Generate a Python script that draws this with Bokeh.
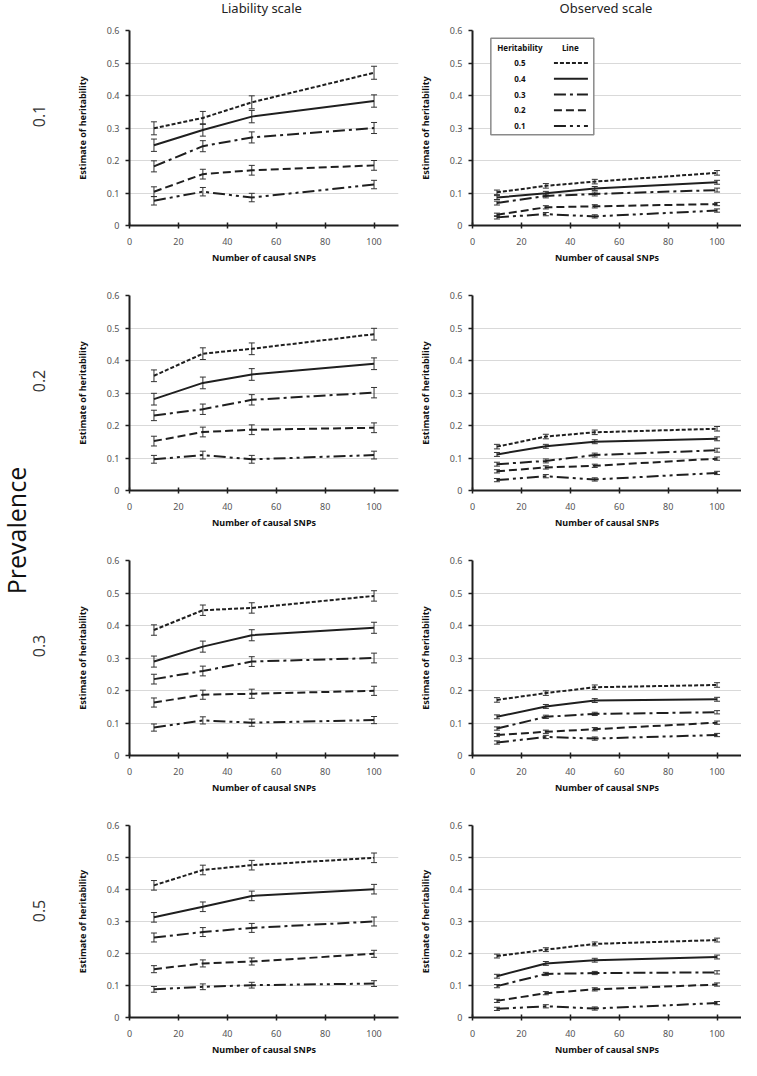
import math
from bokeh.plotting import figure
from bokeh.models import (ColumnDataSource, Whisker, TeeHead, FixedTicker,
                          CustomJSTickFormatter, Range1d)
from bokeh.layouts import row, column
from bokeh.embed import file_html
from bokeh.resources import INLINE
from bokeh.core.properties import value

# ---------------- data ----------------
snps = [10, 30, 50, 100]
heritability = ["0.5", "0.4", "0.3", "0.2", "0.1"]
prevalence = ["0.1", "0.2", "0.3", "0.5"]
scales = ["Liability scale", "Observed scale"]
x_ticks = [0, 20, 40, 60, 80, 100]
y_ticks = [0, 0.1, 0.2, 0.3, 0.4, 0.5, 0.6]

# rows: heritability 0.5, 0.4, 0.3, 0.2, 0.1 ; columns: snps
liab_prev01 = [[0.299, 0.331, 0.379, 0.470],
               [0.247, 0.294, 0.335, 0.383],
               [0.182, 0.244, 0.271, 0.300],
               [0.104, 0.158, 0.170, 0.185],
               [0.076, 0.104, 0.086, 0.126]]
liab_prev02 = [[0.353, 0.421, 0.436, 0.481],
               [0.281, 0.331, 0.357, 0.390],
               [0.231, 0.250, 0.279, 0.301],
               [0.152, 0.180, 0.187, 0.193],
               [0.096, 0.109, 0.096, 0.109]]
liab_prev03 = [[0.386, 0.447, 0.454, 0.491],
               [0.289, 0.335, 0.370, 0.393],
               [0.235, 0.260, 0.289, 0.300],
               [0.163, 0.187, 0.190, 0.199],
               [0.086, 0.108, 0.101, 0.109]]
liab_prev05 = [[0.413, 0.461, 0.476, 0.499],
               [0.313, 0.346, 0.380, 0.401],
               [0.250, 0.267, 0.280, 0.300],
               [0.151, 0.169, 0.175, 0.199],
               [0.088, 0.096, 0.101, 0.106]]

obs_prev01 = [[0.102, 0.122, 0.135, 0.162],
              [0.086, 0.099, 0.114, 0.133],
              [0.069, 0.091, 0.097, 0.109],
              [0.033, 0.056, 0.059, 0.066],
              [0.025, 0.035, 0.028, 0.046]]
obs_prev02 = [[0.135, 0.166, 0.179, 0.190],
              [0.111, 0.136, 0.150, 0.159],
              [0.081, 0.091, 0.109, 0.124],
              [0.059, 0.071, 0.076, 0.098],
              [0.032, 0.044, 0.034, 0.054]]
obs_prev03 = [[0.171, 0.192, 0.210, 0.217],
              [0.119, 0.151, 0.169, 0.173],
              [0.083, 0.119, 0.128, 0.133],
              [0.063, 0.073, 0.081, 0.101],
              [0.040, 0.057, 0.052, 0.063]]
obs_prev05 = [[0.192, 0.212, 0.230, 0.242],
              [0.129, 0.169, 0.179, 0.189],
              [0.098, 0.136, 0.139, 0.141],
              [0.052, 0.076, 0.088, 0.103],
              [0.027, 0.035, 0.028, 0.045]]

# half-width of error bars, one value per heritability series
liab_err_prev01 = [0.020, 0.019, 0.017, 0.015, 0.013]
liab_err_prev02 = [0.018, 0.018, 0.016, 0.015, 0.012]
liab_err_prev03 = [0.016, 0.017, 0.015, 0.014, 0.011]
liab_err_prev05 = [0.015, 0.015, 0.014, 0.011, 0.009]
obs_err_prev01 = [0.007, 0.006, 0.006, 0.005, 0.005]
obs_err_prev02 = [0.007, 0.006, 0.006, 0.005, 0.005]
obs_err_prev03 = [0.007, 0.006, 0.005, 0.005, 0.005]
obs_err_prev05 = [0.006, 0.006, 0.005, 0.005, 0.005]

liab_panels = [liab_prev01, liab_prev02, liab_prev03, liab_prev05]
obs_panels = [obs_prev01, obs_prev02, obs_prev03, obs_prev05]
liab_errs = [liab_err_prev01, liab_err_prev02, liab_err_prev03, liab_err_prev05]
obs_errs = [obs_err_prev01, obs_err_prev02, obs_err_prev03, obs_err_prev05]

# ---------------- styling / layout sizes ----------------
FONT = "Noto Sans"
INK = "#1f1f1f"
dashes = ["4 2", "solid", "12 4 3 4", "8 4", "12 4 3 4 3 4"]

HEADER_H = 24
STRIP_W = 72
FRAME_W_L = 274
FRAME_W_R = 271
FRAME_H = 195
L_BL, L_BR = 52, 17
R_BL, R_BR = 55, 0
TOP_FIRST, TOP = 6, 29
BOT, BOT_LAST = 41, 38
TOTAL_W = STRIP_W + L_BL + FRAME_W_L + L_BR + R_BL + FRAME_W_R + R_BR


def make_panel(values, errs, col, rowi):
    bl, br = (L_BL, L_BR) if col == 0 else (R_BL, R_BR)
    fw = FRAME_W_L if col == 0 else FRAME_W_R
    bt = TOP_FIRST if rowi == 0 else TOP
    bb = BOT_LAST if rowi == 3 else BOT
    p = figure(width=bl + fw + br, height=bt + FRAME_H + bb,
               x_range=Range1d(0, 110), y_range=Range1d(0, 0.6),
               output_backend="svg", toolbar_location=None,
               min_border_left=bl, min_border_right=br,
               min_border_top=bt, min_border_bottom=bb,
               outline_line_color=None, title=None)

    p.xaxis.ticker = FixedTicker(ticks=x_ticks)
    p.yaxis.ticker = FixedTicker(ticks=y_ticks)
    p.yaxis.formatter = CustomJSTickFormatter(
        code="return tick == 0 ? '0' : tick.toFixed(1);")
    p.xaxis.axis_label = "Number of causal SNPs"
    p.yaxis.axis_label = "Estimate of heritability"
    for ax in (p.xaxis[0], p.yaxis[0]):
        ax.axis_label_text_font = FONT
        ax.axis_label_text_font_size = "9px"
        ax.axis_label_text_font_style = "bold"
        ax.axis_label_text_color = "#111111"
        ax.major_label_text_font = FONT
        ax.major_label_text_font_size = "9px"
        ax.major_label_text_color = "#555555"
        ax.axis_line_width = 2
        ax.axis_line_color = INK
        ax.major_tick_line_color = INK
        ax.major_tick_line_width = 1.5
        ax.minor_tick_line_color = None
    p.yaxis.major_tick_in = 0
    p.yaxis.major_tick_out = 4
    p.yaxis.major_label_standoff = 6
    p.yaxis.axis_label_standoff = 15
    p.xaxis.major_tick_in = 3
    p.xaxis.major_tick_out = 3
    p.xaxis.major_label_standoff = 9
    p.xaxis.axis_label_standoff = 3
    p.xgrid.visible = False
    p.ygrid.grid_line_color = "#d9d9d9"
    p.ygrid.grid_line_width = 1

    for vals, err, dash in zip(values, errs, dashes):
        src = ColumnDataSource(dict(x=snps, y=vals,
                                    upper=[v + err for v in vals],
                                    lower=[v - err for v in vals]))
        p.add_layout(Whisker(source=src, base="x", upper="upper", lower="lower",
                             line_color="#333333", line_width=1,
                             upper_head=TeeHead(size=6, line_color="#333333", line_width=1),
                             lower_head=TeeHead(size=6, line_color="#333333", line_width=1)))
        p.line("x", "y", source=src, line_color=INK, line_width=2, line_dash=dash)
    return p


def add_legend(p):
    # legend table placed in data space of the top observed-scale panel
    p.quad(left=[7.5], right=[49.6], top=[0.576], bottom=[0.279],
           fill_color="white", line_color="#8a8a8a", line_width=1.5)
    p.text(x=[19.4, 40.0], y=[0.548, 0.548], text=["Heritability", "Line"],
           text_font=value(FONT), text_font_size="8px", text_font_style="bold",
           text_align="center", text_baseline="middle", text_color="#111111")
    ys = [0.500 - 0.0485 * i for i in range(len(heritability))]
    p.text(x=[19.4] * len(heritability), y=ys, text=heritability,
           text_font=value(FONT), text_font_size="8px", text_font_style="bold",
           text_align="center", text_baseline="middle", text_color="#111111")
    for yv, dash in zip(ys, dashes):
        p.line(x=[33.3, 47.2], y=[yv, yv], line_color=INK, line_width=2, line_dash=dash)


rows = []
frame_centers = []
y_acc = 0
for i in range(4):
    lp = make_panel(liab_panels[i], liab_errs[i], 0, i)
    rp = make_panel(obs_panels[i], obs_errs[i], 1, i)
    if i == 0:
        add_legend(rp)
    bt = TOP_FIRST if i == 0 else TOP
    bb = BOT_LAST if i == 3 else BOT
    frame_centers.append(y_acc + bt + FRAME_H / 2)
    y_acc += bt + FRAME_H + bb
    rows.append(row(lp, rp))

PANELS_H = y_acc

# header strip with the two column headings, centred over each plot frame
header = figure(width=TOTAL_W, height=HEADER_H, x_range=Range1d(0, TOTAL_W),
                y_range=Range1d(HEADER_H, 0), output_backend="svg",
                toolbar_location=None, min_border=0, outline_line_color=None,
                title=None)
header.axis.visible = False
header.grid.visible = False
left_center = STRIP_W + L_BL + FRAME_W_L / 2
right_center = STRIP_W + L_BL + FRAME_W_L + L_BR + R_BL + FRAME_W_R / 2
header.text(x=[left_center, right_center], y=[HEADER_H + TOP_FIRST - 23] * 2,
            text=scales, text_align="center", text_baseline="middle",
            text_font=value(FONT), text_font_size="13px", text_color="#222222")

# left strip: "Prevalence" and the prevalence value of each row
strip = figure(width=STRIP_W, height=PANELS_H, x_range=Range1d(0, STRIP_W),
               y_range=Range1d(PANELS_H, 0), output_backend="svg",
               toolbar_location=None, min_border=0, outline_line_color=None,
               title=None)
strip.axis.visible = False
strip.grid.visible = False
strip.text(x=[15], y=[530 - HEADER_H], text=["Prevalence"], angle=math.pi / 2,
           text_align="center", text_baseline="middle",
           text_font=value("Open Sans"), text_font_size="25px", text_color="#111111")
strip.text(x=[38] * 4, y=[c - 12 for c in frame_centers], text=prevalence,
           angle=math.pi / 2, text_align="center", text_baseline="middle",
           text_font=value("Open Sans"), text_font_size="16px", text_color="#333333")

layout = column(header, row(strip, column(*rows)))

open("out.html", "w").write(file_html(layout, INLINE))
